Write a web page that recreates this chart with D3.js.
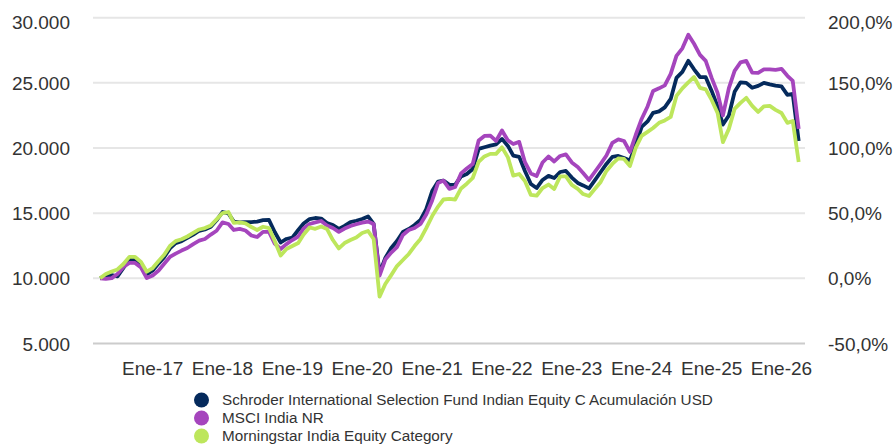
<!DOCTYPE html>
<html>
<head>
<meta charset="utf-8">
<title>Schroder ISF Indian Equity - evolución de 10.000</title>
<style>
  body { margin: 0; background: #fff; }
  svg text { font-family: "Liberation Sans", Arial, sans-serif; fill: #333; }
</style>
</head>
<body>
<script src="https://cdnjs.cloudflare.com/ajax/libs/d3/7.8.5/d3.min.js"></script>
<script>
// monthly points, Apr 2016 .. Apr 2026
var months = d3.timeMonth.range(new Date(2016, 3, 1), new Date(2026, 4, 1));

var seriesNames = [
  "Schroder International Selection Fund Indian Equity C Acumulación USD",
  "MSCI India NR",
  "Morningstar India Equity Category"
];
var seriesColors = ["#052a5c", "#a545bd", "#bde65c"];

var fundValues = [
  10000, 10200, 10250, 10150, 10800, 11450, 11450, 11050, 10300, 10600,
  11150, 11600, 12300, 12700, 12850, 13100, 13350, 13650, 13750, 13950,
  14450, 15090, 14980, 14360, 14300, 14310, 14320, 14360, 14460, 14480,
  13560, 12750, 13020, 13130, 13710, 14210, 14550, 14630, 14590, 14250,
  14090, 13790, 14020, 14320, 14420, 14550, 14750, 14170, 10400, 11560,
  12330, 12860, 13560, 13790, 14090, 14480, 15320, 16700, 17430, 17500,
  17170, 17170, 17820, 18010, 18390, 19930, 20060, 20180, 20280, 20700,
  20160, 19420, 19320, 18240, 17240, 16930, 17550, 17860, 17700, 18160,
  18240, 17730, 17320, 17130, 16900, 17510, 18160, 18780, 19320, 19390,
  19240, 19050, 20240, 21620, 22040, 22700, 22810, 23120, 23770, 25380,
  25840, 26690, 26040, 25450, 25440, 24380, 23190, 21800, 22490, 24310,
  25040, 25000, 24620, 24770, 25000, 24880, 24790, 24730, 24080, 24150,
  20540
];

var indexValues = [
  10000, 9960, 10020, 10330, 10870, 11180, 11180, 10830, 10020, 10220,
  10600, 11100, 11640, 11900, 12130, 12330, 12630, 12890, 13020, 13360,
  13650, 14290, 14170, 13710, 13790, 13670, 13290, 13170, 13570, 13560,
  12670, 12250, 12630, 12940, 13210, 13820, 14170, 14290, 14400, 14060,
  13860, 13560, 13820, 14020, 14150, 14270, 14360, 14170, 10200, 11440,
  11980, 12400, 13330, 13710, 13860, 14170, 14900, 15980, 17320, 17500,
  16860, 17010, 18050, 18430, 18780, 20580, 20930, 20950, 20540, 21350,
  20580, 20310, 20470, 18910, 18050, 17860, 18890, 19350, 18970, 19390,
  19510, 18890, 18550, 18090, 17550, 18160, 18780, 19430, 20390, 20660,
  20540, 19700, 21000, 22230, 23190, 24380, 24580, 24810, 25690, 27070,
  27650, 28700, 28000, 27150, 26690, 25380, 24230, 22500, 24600, 25920,
  26570, 26690, 25790, 25770, 26040, 26040, 26000, 26080, 25540, 25150,
  21470
];

var categoryValues = [
  10000, 10330, 10520, 10680, 11100, 11650, 11640, 11250, 10510, 10790,
  11330, 11790, 12480, 12860, 13000, 13210, 13480, 13750, 13860, 14060,
  14520, 15010, 15090, 14250, 14290, 14210, 13940, 13710, 13960, 13860,
  12860, 11750, 12250, 12480, 12710, 13360, 13900, 13800, 13980, 13790,
  12940, 12290, 12710, 12940, 13130, 13480, 13630, 13020, 8600, 9560,
  10250, 10940, 11410, 11870, 12480, 13020, 13860, 14780, 15510, 16050,
  16090, 16050, 16900, 17260, 17700, 18930, 19350, 19550, 19550, 20050,
  19280, 17880, 18010, 17470, 16400, 16340, 16930, 17200, 16860, 17820,
  17820, 17170, 16860, 16470, 16320, 16860, 17400, 18240, 18780, 19200,
  19160, 18620, 20010, 20930, 21240, 21540, 21930, 22120, 22390, 24000,
  24580, 25040, 25450, 24620, 24500, 23690, 22690, 20450, 21470, 23000,
  23460, 23850, 23230, 22770, 23190, 23230, 22930, 22690, 21930, 22080,
  18930
];

var leftTicks = [5000, 10000, 15000, 20000, 25000, 30000];
var rightTicks = [-0.5, 0, 0.5, 1, 1.5, 2];
var yearTicks = [2017, 2018, 2019, 2020, 2021, 2022, 2023, 2024, 2025, 2026];

var es = d3.formatLocale({decimal: ",", thousands: ".", grouping: [3], currency: ["", " €"], minus: "-"});
var fmtLeft = es.format(",.0f");
var fmtRight = es.format(".1%");

var width = 895, height = 447;
var svg = d3.select("body").append("svg")
    .attr("width", width)
    .attr("height", height);

var x = d3.scaleTime()
    .domain([new Date(2016, 1, 24), new Date(2026, 4, 4)])
    .range([93, 805]);
var y = d3.scaleLinear().domain([5000, 30000]).range([343.5, 17.7]);
var yRight = d3.scaleLinear().domain([-0.5, 2]).range([343.5, 17.7]);

// grid
svg.append("g").selectAll("line")
    .data(leftTicks)
    .enter().append("line")
    .attr("x1", x.range()[0]).attr("x2", x.range()[1])
    .attr("y1", function(d) { return y(d); })
    .attr("y2", function(d) { return y(d); })
    .attr("stroke", function(d, i) { return i == 0 ? "#cccccc" : "#e6e6e6"; })
    .attr("stroke-width", 2);

// left axis labels
svg.append("g").selectAll("text")
    .data(leftTicks)
    .enter().append("text")
    .attr("x", 70)
    .attr("y", function(d) { return Math.max(y(d) + 7, 29); })
    .attr("text-anchor", "end")
    .attr("font-size", "19px")
    .text(function(d) { return fmtLeft(d); });

// right axis labels
svg.append("g").selectAll("text")
    .data(rightTicks)
    .enter().append("text")
    .attr("x", 828)
    .attr("y", function(d) { return Math.max(yRight(d) + 7, 29); })
    .attr("text-anchor", "start")
    .attr("font-size", "19px")
    .text(function(d) { return fmtRight(d); });

// x labels
svg.append("g").selectAll("text")
    .data(yearTicks)
    .enter().append("text")
    .attr("x", function(d) { return x(new Date(d, 0, 1)); })
    .attr("y", 375)
    .attr("text-anchor", "middle")
    .attr("font-size", "19px")
    .text(function(d) { return "Ene-" + String(d).slice(2); });

// lines
var allSeries = [fundValues, indexValues, categoryValues];
var line = d3.line()
    .x(function(d, i) { return x(months[i]); })
    .y(function(d) { return y(d); });

svg.append("g").selectAll("path")
    .data(allSeries)
    .enter().append("path")
    .attr("d", function(d) { return line(d); })
    .attr("fill", "none")
    .attr("stroke", function(d, i) { return seriesColors[i]; })
    .attr("stroke-width", 3.8)
    .attr("stroke-linejoin", "round");

// legend
var legend = svg.append("g").selectAll("g")
    .data(seriesNames)
    .enter().append("g")
    .attr("transform", function(d, i) { return "translate(201.5," + (400 + i * 18) + ")"; });

legend.append("circle")
    .attr("r", 7.5)
    .attr("fill", function(d, i) { return seriesColors[i]; });

legend.append("text")
    .attr("x", 20.5)
    .attr("dy", "0.35em")
    .attr("font-size", "15.25px")
    .text(function(d) { return d; });
</script>
</body>
</html>
